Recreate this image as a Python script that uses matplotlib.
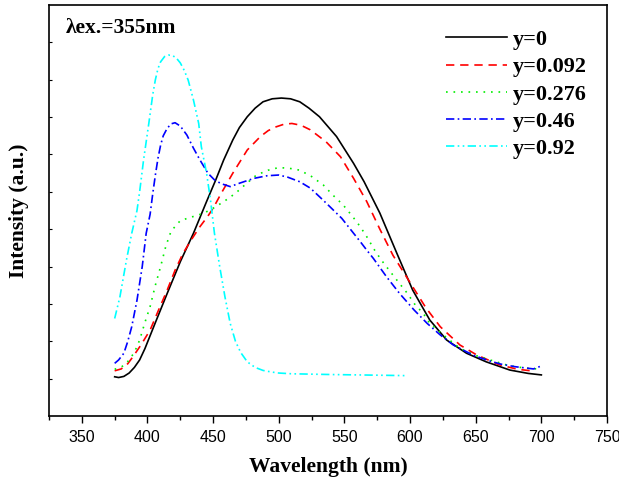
import matplotlib
matplotlib.use("Agg")
import matplotlib.pyplot as plt
from matplotlib.ticker import MultipleLocator

# Emission spectra, lambda_ex = 355 nm (intensity in arbitrary units)
labels = ["y=0", "y=0.092", "y=0.276", "y=0.46", "y=0.92"]
colors = ["black", "red", "#00ee00", "blue", "cyan"]

wl_y0 = [375, 378, 382, 386, 390, 394, 398, 402, 406, 415, 425, 435, 445, 452,
         458, 465, 470, 476, 482, 488, 495, 502, 509, 516, 523, 531, 544, 557,
         565, 577, 590, 602, 615, 628, 643, 658, 676, 690, 700]
int_y0 = [1.05, 1.03, 1.06, 1.15, 1.30, 1.50, 1.80, 2.15, 2.50, 3.28, 4.13, 4.89,
          5.74, 6.32, 6.85, 7.39, 7.72, 8.01, 8.24, 8.41, 8.49, 8.51, 8.49, 8.41,
          8.24, 8.01, 7.48, 6.76, 6.27, 5.43, 4.35, 3.37, 2.57, 2.03, 1.68, 1.45,
          1.23, 1.14, 1.10]

wl_y0092 = [375, 380, 385, 389, 395, 402, 408, 415, 421, 427, 434, 440, 446, 450,
            456, 465, 476, 486, 492, 498, 504, 510, 517, 524, 536, 547, 557, 567,
            577, 587, 602, 612, 623, 638, 651, 668, 682, 695]
int_y0092 = [1.21, 1.26, 1.40, 1.59, 1.90, 2.30, 2.80, 3.37, 3.90, 4.35, 4.75, 5.07,
             5.35, 5.56, 5.95, 6.50, 7.12, 7.48, 7.64, 7.74, 7.81, 7.83, 7.78, 7.66,
             7.34, 6.94, 6.36, 5.74, 5.00, 4.30, 3.46, 2.90, 2.39, 1.90, 1.63, 1.37,
             1.25, 1.20]

wl_y0276 = [375, 380, 384, 390, 394, 398, 402, 406, 410, 414, 418, 425, 434, 443,
            451, 459, 467, 474, 483, 492, 500, 508, 516, 525, 534, 541, 549, 556,
            562, 567, 573, 578, 585, 591, 598, 604, 610, 615, 627, 638, 650, 661,
            675, 688, 697]
int_y0276 = [1.25, 1.31, 1.41, 1.70, 2.03, 2.50, 2.93, 3.50, 4.00, 4.55, 4.95, 5.23,
             5.33, 5.43, 5.58, 5.76, 5.96, 6.18, 6.45, 6.58, 6.65, 6.63, 6.58, 6.41,
             6.18, 5.92, 5.65, 5.35, 5.07, 4.80, 4.44, 4.18, 3.86, 3.59, 3.28, 2.97,
             2.75, 2.48, 2.12, 1.81, 1.62, 1.50, 1.35, 1.28, 1.26]

wl_y046 = [375, 378, 382, 385, 388, 392, 396, 399, 402, 404, 406, 408, 410, 412,
           415, 418, 421, 425, 430, 435, 440, 446, 451, 456, 463, 470, 481, 491,
           500, 507, 516, 524, 531, 539, 548, 557, 562, 567, 572, 582, 592, 603,
           613, 623, 633, 648, 660, 669, 680, 694, 700]
int_y046 = [1.41, 1.50, 1.68, 2.00, 2.39, 3.10, 4.00, 4.89, 5.40, 5.95, 6.45, 6.90,
            7.25, 7.50, 7.70, 7.82, 7.85, 7.76, 7.52, 7.17, 6.85, 6.50, 6.32, 6.22,
            6.14, 6.23, 6.36, 6.43, 6.45, 6.39, 6.27, 6.10, 5.87, 5.60, 5.29, 4.89,
            4.67, 4.44, 4.22, 3.73, 3.28, 2.84, 2.48, 2.17, 1.90, 1.63, 1.48, 1.39,
            1.32, 1.26, 1.34]

wl_y092 = [375, 379, 384, 388, 392, 394, 397, 401, 404, 406, 408, 410, 413, 416,
           419, 422, 425, 428, 431, 435, 439, 441, 445, 448, 451, 455, 459, 463,
           467, 471, 476, 482, 488, 494, 500, 510, 525, 540, 560, 580, 598]
int_y092 = [2.61, 3.19, 4.18, 4.89, 5.50, 6.00, 6.85, 7.83, 8.60, 9.00, 9.30, 9.48,
            9.62, 9.66, 9.65, 9.58, 9.45, 9.25, 8.99, 8.46, 7.83, 7.21, 6.50, 5.78,
            4.89, 4.00, 3.19, 2.48, 2.00, 1.70, 1.45, 1.30, 1.22, 1.18, 1.15, 1.13,
            1.12, 1.11, 1.10, 1.09, 1.08]

series = [(wl_y0, int_y0), (wl_y0092, int_y0092), (wl_y0276, int_y0276),
          (wl_y046, int_y046), (wl_y092, int_y092)]
styles = ["-", (0, (5, 3.5)), (0, (1, 3.5)), (0, (5, 2, 1, 2)),
          (0, (5, 2, 1, 2, 1, 2))]

serif = "Liberation Serif"
plt.rcParams["font.family"] = "Liberation Sans"

fig = plt.figure(figsize=(6.19, 4.83), dpi=100)
ax = fig.add_axes([0.0792, 0.1387, 0.9014, 0.8509])

for (x, y), lab, c, ls in zip(series, labels, colors, styles):
    ax.plot(x, y, color=c, linestyle=ls, linewidth=1.2, label=lab)

ax.set_xlim(325, 750)
ax.set_ylim(0, 11)
ax.xaxis.set_major_locator(MultipleLocator(50))
ax.xaxis.set_minor_locator(MultipleLocator(25))
ax.set_yticks(range(1, 11))
ax.set_yticklabels([])
ax.tick_params(axis="x", which="major", direction="out", length=5, width=1,
               labelsize=11.5, pad=5)
ax.tick_params(axis="x", which="minor", direction="out", length=3, width=1)
ax.tick_params(axis="y", which="major", direction="in", length=2.5, width=0.8)
for sp in ax.spines.values():
    sp.set_linewidth(1.2)

ax.set_xlabel("Wavelength (nm)", fontsize=15.5, fontweight="bold",
              family=serif, labelpad=9)
ax.set_ylabel("Intensity (a.u.)", fontsize=15.5, fontweight="bold",
              family=serif, labelpad=11)

ax.text(0.030, 0.944, "λex.=355nm", transform=ax.transAxes, fontsize=15.5,
        fontweight="bold", family=serif, va="center", ha="left")

ax.legend(loc="upper left", bbox_to_anchor=(0.712, 0.94), frameon=False,
          prop={"family": serif, "weight": "bold", "size": 16},
          handlelength=2.75, handletextpad=0.25, labelspacing=0.3,
          borderpad=0, borderaxespad=0)

fig.savefig("out.png", dpi=100)
